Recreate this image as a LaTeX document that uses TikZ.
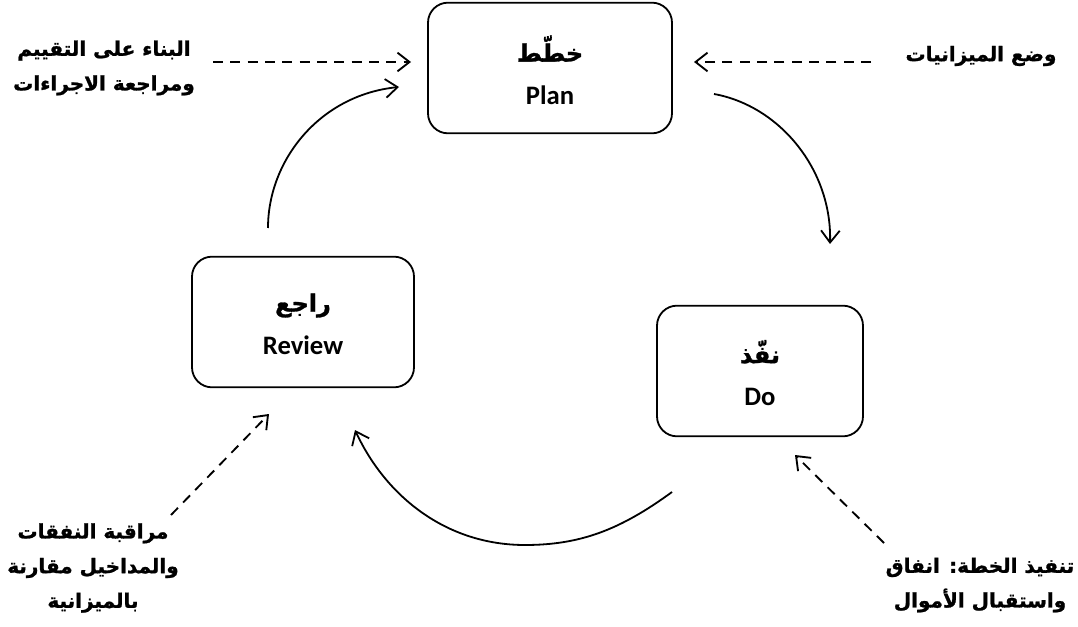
\documentclass[tikz,border=0pt]{standalone}
\usepackage{fontspec}
\usetikzlibrary{arrows.meta}
\TeXXeTstate=1
\newfontfamily\arabicfont[Script=Arabic, BoldFeatures={FakeBold=1.2}]{DejaVu Sans}
\newfontfamily\latinfont{Carlito}
\newcommand{\ar}[1]{{\arabicfont\bfseries\beginR #1\endR}}
\begin{document}
\begin{tikzpicture}[x=0.75pt,y=-0.75pt,
  stagebox/.style={draw, line width=1.35pt, rounded corners=15pt, minimum height=98pt, inner sep=0pt},
  boxtext/.style={align=center, inner sep=0pt, font=\fontsize{20}{32}\selectfont},
  lbl/.style={align=center, inner sep=0pt, font=\fontsize{15}{26}\selectfont},
  arc/.style={line width=1.35pt, -{Straight Barb[length=9pt,width=14pt,line width=1.35pt]}},
  dsh/.style={line width=1.4pt, dash pattern=on 7.5pt off 5.5pt, -{Straight Barb[length=9pt,width=14pt,line width=1.4pt]}}
]
\path[use as bounding box] (0,0) rectangle (1078,627);

% boxes
\node[stagebox, minimum width=183pt] (plan) at (550,68) {};
\node[stagebox, minimum width=166.5pt] (review) at (303,322) {};
\node[stagebox, minimum width=154.5pt] (do) at (760,371) {};
\node[boxtext] (plant) at ([yshift=-1.5pt]plan.center)
  {{\fontsize{18}{32}\selectfont\ar{خطّط}}\\{\latinfont\bfseries Plan}};
\node[boxtext] (reviewt) at ([yshift=-1.5pt]review.center)
  {{\fontsize{18}{32}\selectfont\ar{راجع}}\\{\latinfont\bfseries Review}};
\node[boxtext] (dot) at ([yshift=-1.5pt]do.center)
  {{\fontsize{18}{32}\selectfont\ar{نفّذ}}\\{\latinfont\bfseries Do}};

% side labels
\node[lbl] (ltop) at (104,68) {\ar{البناء على التقييم}\\\ar{ومراجعة الاجراءات}};
\node[lbl] (rtop) at (981,56) {\ar{وضع الميزانيات}};
\node[lbl] (lbot) at (93,568) {\ar{مراقبة النفقات}\\\ar{والمداخيل مقارنة}\\\ar{بالميزانية}};
\node[lbl] (rbot) at (980,585) {\ar{تنفيذ الخطة: انفاق}\\\ar{واستقبال الأموال}};

% cycle arcs
\coordinate (pd1) at (714,94);  \coordinate (pd2) at (830,244);
\coordinate (dr1) at (672,492); \coordinate (drm) at (525,545); \coordinate (dr2) at (355,430);
\coordinate (rp1) at (268,228); \coordinate (rp2) at (399,87);
\draw[arc] (pd1) .. controls (780,106) and (832,170) .. (pd2);
\draw[arc] (dr1) .. controls (620,530) and (580,545) .. (drm)
               .. controls (445,545) and (385,495) .. (dr2);
\draw[arc] (rp1) .. controls (268,160) and (320,95) .. (rp2);

% dashed input arrows
\coordinate (a1) at (213,62);  \coordinate (a1t) at (411,62);
\coordinate (a2) at (871,62);  \coordinate (a2t) at (694,62);
\coordinate (a3) at (171,515); \coordinate (a3t) at (269,414);
\coordinate (a4) at (884,543); \coordinate (a4t) at (795,455);
\draw[dsh] (a1) -- (a1t);
\draw[dsh] (a2) -- (a2t);
\draw[dsh] (a3) -- (a3t);
\draw[dsh] (a4) -- (a4t);
\end{tikzpicture}
\end{document}
